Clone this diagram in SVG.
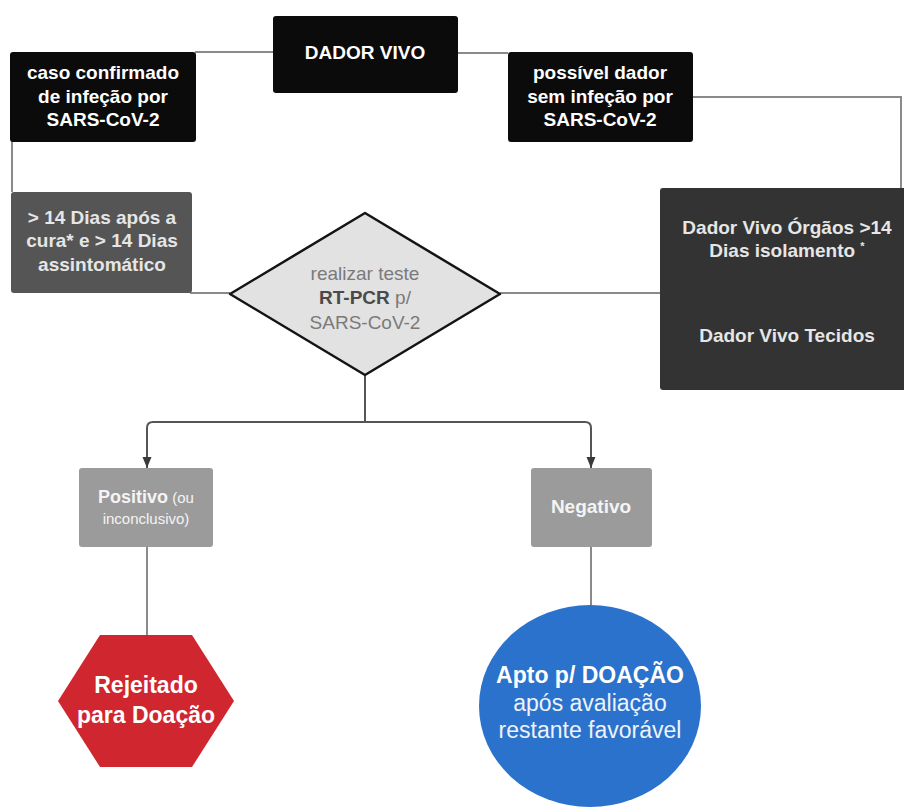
<svg xmlns="http://www.w3.org/2000/svg" width="904" height="807" viewBox="0 0 904 807">
<defs>
<marker id="arr" markerUnits="userSpaceOnUse" markerWidth="12" markerHeight="10" refX="11" refY="5" orient="auto" viewBox="0 0 12 10">
<path d="M0 0.5 L11 5 L0 9.5 Z" fill="#3a3a3a"/>
</marker>
<style>
.bg{fill:#ffffff}
.blk{fill:#0b0b0b}
.dk{fill:#555555}
.dk2{fill:#333333}
.gr{fill:#9b9b9b}
.t{font-family:"Liberation Sans",Arial,sans-serif;text-anchor:middle}
.tb{font-weight:bold;fill:#ffffff;font-size:19px}
.tl{font-weight:bold;fill:#e6e6e6;font-size:19px}
.c{fill:none;stroke:#8a8a8a;stroke-width:2}
.c2{fill:none;stroke:#555555;stroke-width:2}
</style>
</defs>
<rect class="bg" x="0" y="0" width="904" height="807"/>
<g id="connectors">
<path class="c" d="M195 52 H273"/>
<path class="c" d="M457 53 H508"/>
<path class="c" d="M693 97 H901 V188"/>
<path class="c" d="M12 141 V192"/>
<path class="c" d="M190 293 H230"/>
<path class="c" d="M500 293 H660"/>
<path class="c2" d="M365 376 V422"/>
<path class="c2" d="M365 422 H153 Q147 422 147 428 V468" marker-end="url(#arr)"/>
<path class="c2" d="M365 422 H585 Q591 422 591 428 V468" marker-end="url(#arr)"/>
<path class="c" d="M147 547 V635"/>
<path class="c" d="M591 547 V606"/>
</g>
<g id="dador-vivo">
<rect class="blk" x="273" y="16" width="185" height="77" rx="3"/>
<text class="t tb" x="365" y="59">DADOR VIVO</text>
</g>
<g id="caso-confirmado">
<rect class="blk" x="10" y="52" width="186" height="90" rx="3"/>
<text class="t tb" x="103" y="79">caso confirmado</text>
<text class="t tb" x="103" y="103">de infeção por</text>
<text class="t tb" x="103" y="126">SARS-CoV-2</text>
</g>
<g id="possivel-dador">
<rect class="blk" x="508" y="52" width="185" height="90" rx="3"/>
<text class="t tb" x="600" y="79">possível dador</text>
<text class="t tb" x="600" y="103">sem infeção por</text>
<text class="t tb" x="600" y="126">SARS-CoV-2</text>
</g>
<g id="dias-apos-cura">
<rect class="dk" x="11" y="192" width="181" height="101" rx="3"/>
<text class="t tl" x="102" y="224">&gt; 14 Dias após a</text>
<text class="t tl" x="102" y="247">cura* e &gt; 14 Dias</text>
<text class="t tl" x="102" y="271">assintomático</text>
</g>
<g id="teste-rtpcr">
<polygon points="365,213 500,294 365,375 230,294" fill="#e2e2e2" stroke="#141414" stroke-width="2.5" stroke-linejoin="round"/>
<text class="t" x="365" y="280" font-size="19" fill="#7a7a7a">realizar teste</text>
<text class="t" x="365" y="304" font-size="19" fill="#7a7a7a"><tspan font-weight="bold" fill="#4a4a4a">RT-PCR</tspan> p/</text>
<text class="t" x="365" y="329" font-size="19" fill="#7a7a7a">SARS-CoV-2</text>
</g>
<g id="dador-vivo-orgaos">
<rect class="dk2" x="660" y="188" width="250" height="202" rx="3"/>
<text class="t tl" x="787" y="234">Dador Vivo Órgãos &gt;14</text>
<text class="t tl" x="787" y="257">Dias isolamento <tspan font-size="11" dy="-7">*</tspan></text>
<text class="t tl" x="787" y="342">Dador Vivo Tecidos</text>
</g>
<g id="positivo">
<rect class="gr" x="79" y="468" width="134" height="79" rx="3"/>
<text class="t" x="146" y="503" fill="#f4f4f4"><tspan font-weight="bold" font-size="18">Positivo</tspan><tspan font-size="15"> (ou</tspan></text>
<text class="t" x="146" y="524" fill="#f4f4f4" font-size="15">inconclusivo)</text>
</g>
<g id="negativo">
<rect class="gr" x="531" y="468" width="121" height="79" rx="3"/>
<text class="t" x="591" y="513" fill="#f4f4f4" font-weight="bold" font-size="19">Negativo</text>
</g>
<g id="rejeitado">
<polygon points="100,635 192,635 234,701 192,767 100,767 58,701" fill="#d0262f"/>
<text class="t" x="146" y="693" fill="#ffffff" font-weight="bold" font-size="23">Rejeitado</text>
<text class="t" x="146" y="723" fill="#ffffff" font-weight="bold" font-size="23">para Doação</text>
</g>
<g id="apto">
<ellipse cx="590" cy="706" rx="111" ry="101" fill="#2a72cc"/>
<text class="t" x="590" y="683" fill="#ffffff" font-weight="bold" font-size="23">Apto p/ DOAÇÃO</text>
<text class="t" x="590" y="711" fill="#eef3fa" font-size="23">após avaliação</text>
<text class="t" x="590" y="738" fill="#eef3fa" font-size="23">restante favorável</text>
</g>
</svg>
